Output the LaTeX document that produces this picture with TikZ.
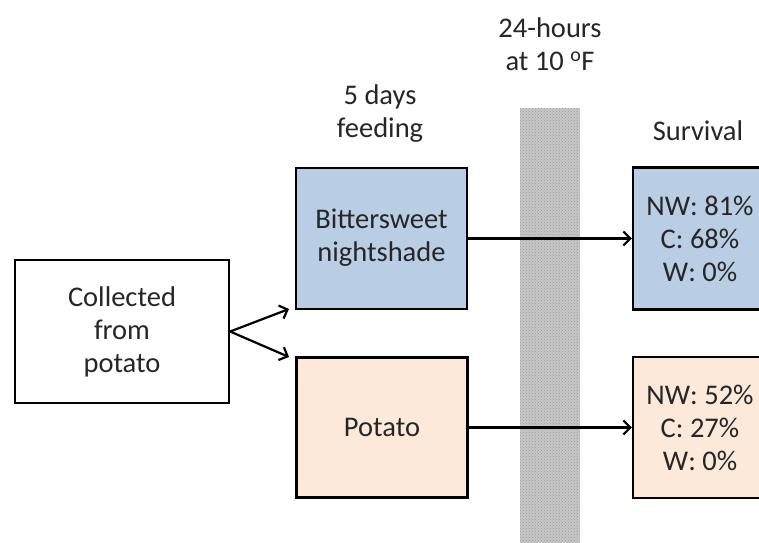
\documentclass[tikz,border=0pt]{standalone}
\usepackage{fontspec}
\setmainfont{Carlito}
\usetikzlibrary{arrows.meta,patterns}
\definecolor{boxblue}{HTML}{B9CDE5}
\definecolor{boxpeach}{HTML}{FDE9D9}
\begin{document}
\begin{tikzpicture}[x=1pt,y=-1pt,
  every node/.style={font=\fontsize{28.5}{33}\selectfont, align=center, inner sep=0pt, text=black!85},
  box/.style={draw=black, line width=2.2pt, rectangle},
  conn/.style={line width=2.2pt, -{Straight Barb[length=7pt,width=14pt,line width=2.2pt]}},
  lbl/.style={}]
\useasboundingbox (0,0) rectangle (759,542);
\clip (0,0) rectangle (759,542);
% cold band
\fill[black!22] (520,108) rectangle (580,545);
\fill[pattern=crosshatch dots, pattern color=black!40] (520,108) rectangle (580,545);
% labels
\node[lbl] (hours) at (550,44) {24-hours\\at 10 \textsuperscript{o}F};
\node[lbl] (days) at (380,114) {5 days\\feeding};
\node[lbl] (surv) at (698,131) {Survival};
% boxes
\node[box, minimum width=214pt, minimum height=143pt] (coll) at (122,331.5) {Collected\\from\\potato};
\node[box, fill=boxblue, minimum width=171pt, minimum height=141pt] (bitter) at (381.5,238.5) {\raisebox{-3pt}{\begin{tabular}{@{}c@{}}Bittersweet\\nightshade\end{tabular}}};
\node[box, fill=boxpeach, minimum width=171pt, minimum height=140pt] (pot) at (382,427.5) {\raisebox{-3pt}{Potato}};
\node[box, fill=boxblue, minimum width=134pt, minimum height=142pt] (s1) at (700,238.5) {NW: 81\%\\C: 68\%\\W: 0\%};
\node[box, fill=boxpeach, minimum width=134pt, minimum height=141pt] (s2) at (700,427.5) {NW: 52\%\\C: 27\%\\W: 0\%};
% connectors
\coordinate (t1) at (289,309);
\coordinate (t2) at (289,357);
\draw[conn] (coll.east) -- (t1);
\draw[conn] (coll.east) -- (t2);
\draw[conn] (bitter.east) -- (s1.west);
\draw[conn] (pot.east) -- (s2.west);
\end{tikzpicture}
\end{document}
